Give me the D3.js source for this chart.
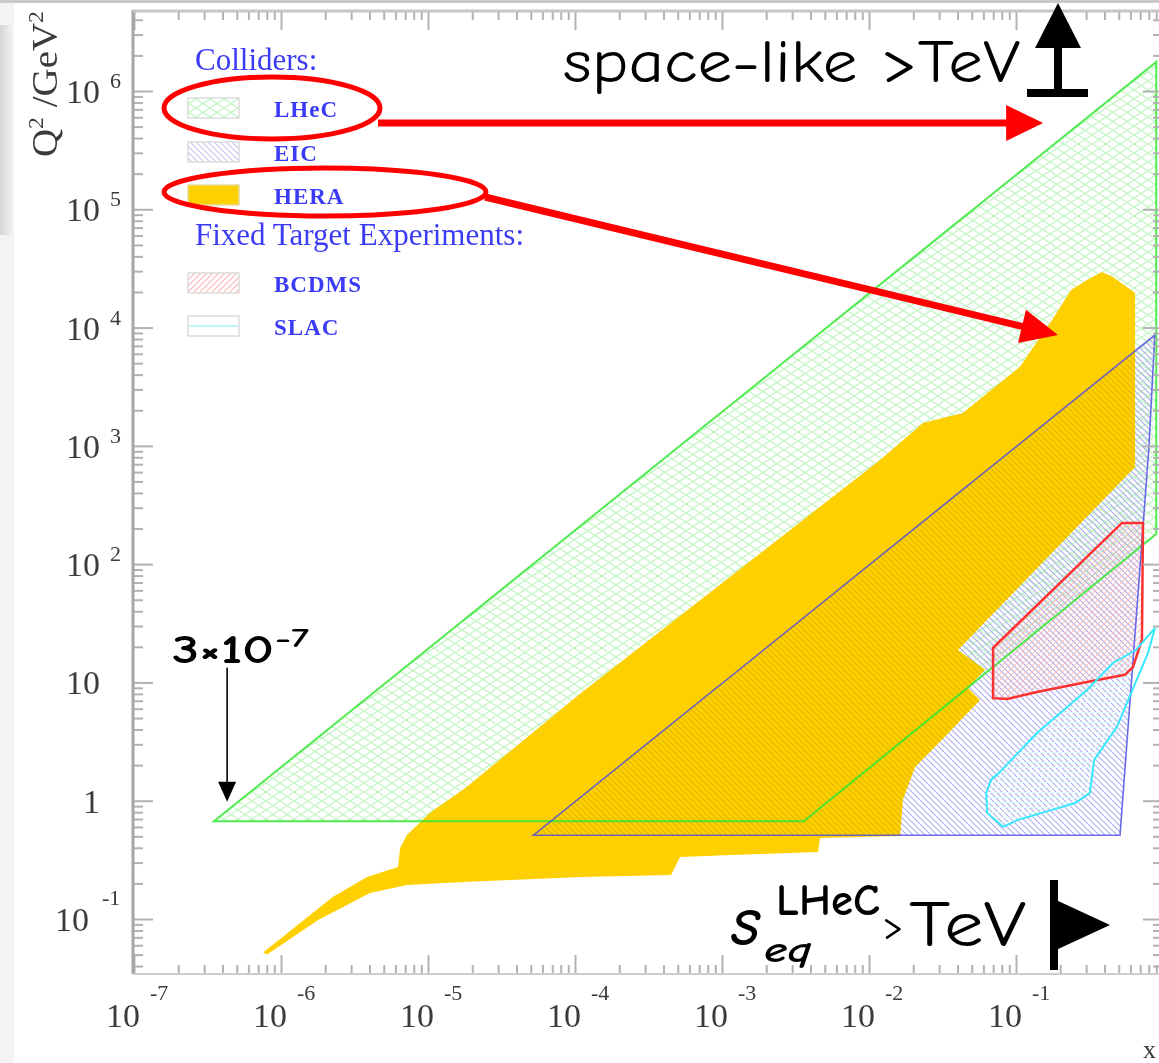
<!DOCTYPE html>
<html>
<head>
<meta charset="utf-8">
<script src="https://cdn.jsdelivr.net/npm/d3@7"></script>
<style>
  body { margin: 0; background: #fff; }
  svg { display: block; }
</style>
</head>
<body>
<svg id="chart" width="1159" height="1063"></svg>
<script>

// ---- data (x, Q^2 in GeV^2) ----
const xExponents = [-7, -6, -5, -4, -3, -2, -1];
const yExponents = [-1, 0, 1, 2, 3, 4, 5, 6];

const lhecRegion = [[3.5e-7, 0.67], [0.9, 1.76e6], [0.9, 180], [3.6e-3, 0.67]];

const eicRegion = [[5.2e-5, 0.51], [0.88, 8650], [0.80, 923], [0.51, 0.51]];

const heraRegion = [
  [7.55e-7, 0.052], [2.26e-6, 0.154], [3.85e-6, 0.227], [6.25e-6, 0.275],
  [6.46e-6, 0.399], [7.19e-6, 0.514], [1.03e-5, 0.789], [1.84e-5, 1.31],
  [1.10e-4, 8.15], [1.19e-2, 760], [2.33e-2, 1560], [4.35e-2, 1900],
  [0.106, 4640], [0.176, 11600], [0.237, 20800], [0.304, 25300],
  [0.385, 29500], [0.457, 26800], [0.646, 19600], [0.646, 664],
  [4.03e-2, 18.8], [6.15e-2, 12.8], [4.71e-2, 9.0], [5.69e-2, 7.11],
  [3.14e-2, 3.27], [2.06e-2, 1.93], [1.70e-2, 1.02], [1.63e-2, 0.504],
  [4.65e-3, 0.485], [4.50e-3, 0.369], [5.18e-4, 0.335], [4.50e-4, 0.236],
  [1.10e-4, 0.227], [1.29e-5, 0.202], [7.19e-6, 0.194], [4.03e-6, 0.166],
  [1.79e-6, 0.098], [8.04e-7, 0.050]
];

const bcdmsRegion = [
  [0.526, 223], [0.731, 223], [0.719, 22.9], [0.625, 13.5], [0.551, 11.6],
  [0.304, 10.1], [0.139, 8.31], [0.0869, 7.26], [0.0698, 7.36], [0.0698, 19.6]
];

const slacRegion = [
  [0.883, 28.9], [0.791, 17.8], [0.486, 4.21], [0.340, 2.21], [0.318, 1.16],
  [0.252, 0.957], [0.176, 0.836], [0.103, 0.689], [0.0817, 0.601], [0.0636, 0.789],
  [0.0627, 1.16], [0.0676, 1.50], [0.0766, 1.72], [0.139, 3.74], [0.304, 8.64],
  [0.457, 14.6], [0.655, 18.8]
];

const legendHeaders = ["Colliders:", "Fixed Target Experiments:"];
const legendNames = ["LHeC", "EIC", "HERA", "BCDMS", "SLAC"];

// annotation arrows, anchored in data space
const spaceArrow = [[4.57e-6, 5.36e5], [0.153, 5.36e5]];
const heraArrow = [[2.44e-5, 1.27e5], [0.193, 8650]];
const xminArrow = [[4.3e-7, 13.3], [4.3e-7, 0.98]];

// ---- scales ----
const svg = d3.select("#chart");
const x = d3.scaleLog().domain([1e-7, 1]).range([134, 1163]);
const y = d3.scaleLog().domain([1e-1, 1e6]).range([919, 91]);
const plotTop = 11, plotBottom = 974, plotLeft = 133, plotRight = 1163;

const defs = svg.append("defs");
defs.append("filter").attr("id", "soft")
  .append("feGaussianBlur").attr("stdDeviation", 0.6);

function pattern(id, w, h, d, color, width) {
  const p = defs.append("pattern").attr("id", id)
    .attr("patternUnits", "userSpaceOnUse").attr("width", w).attr("height", h);
  p.append("path").attr("d", d).attr("stroke", color)
    .attr("stroke-width", width).attr("fill", "none");
}
pattern("meshGreen", 14, 9, "M0,0L14,9M14,0L0,9", "#c4f5c4", 1.3);
pattern("hatchBlue", 6, 6, "M0,0L6,6M-1,5L1,7M5,-1L7,1", "#c6c6f4", 1.1);
pattern("hatchRed", 6, 6, "M0,6L6,0M-1,1L1,-1M5,7L7,5", "#ffb6b6", 1.2);
pattern("lineCyan", 6, 5, "M0,2.5L6,2.5", "#e2fcfc", 1);

// left grey fringe of the scanned figure
const grad = defs.append("linearGradient").attr("id", "edge");
grad.append("stop").attr("offset", "0%").attr("stop-color", "#d4d4d4");
grad.append("stop").attr("offset", "100%").attr("stop-color", "#f6f6f6");
svg.append("rect").attr("x", 0).attr("y", 0).attr("width", 14).attr("height", 1063).attr("fill", "#f4f4f4");
svg.append("rect").attr("x", 0).attr("y", 25).attr("width", 14).attr("height", 210).attr("fill", "url(#edge)");
svg.append("rect").attr("x", 0).attr("y", 0).attr("width", 1159).attr("height", 3).attr("fill", "#cacaca");

const base = svg.append("g").attr("filter", "url(#soft)");

const line = d3.line().x(d => x(d[0])).y(d => y(d[1]));
const area = pts => line(pts) + "Z";

// ---- regions ----
defs.append("clipPath").attr("id", "plotClip").append("rect")
  .attr("x", plotLeft).attr("y", plotTop).attr("width", plotRight - plotLeft).attr("height", plotBottom - plotTop);
const regions = base.append("g").attr("clip-path", "url(#plotClip)");

regions.append("path").attr("d", area(lhecRegion)).attr("fill", "url(#meshGreen)");
regions.append("path").attr("d", area(eicRegion)).attr("fill", "url(#hatchBlue)");
regions.append("path").attr("d", area(heraRegion)).attr("fill", "#ffd000");
regions.append("path").attr("d", area(eicRegion)).attr("fill", "url(#hatchBlue)")
  .style("mix-blend-mode", "multiply").attr("opacity", 0.55);
regions.append("path").attr("d", area(slacRegion)).attr("fill", "url(#lineCyan)");
regions.append("path").attr("d", area(bcdmsRegion)).attr("fill", "url(#hatchRed)").attr("opacity", 0.8);

regions.append("path").attr("d", area(lhecRegion)).attr("fill", "none")
  .attr("stroke", "#33e833").attr("stroke-width", 2).attr("stroke-opacity", 0.85);
regions.append("path").attr("d", area(eicRegion)).attr("fill", "none")
  .attr("stroke", "#4848e6").attr("stroke-width", 1.6).attr("stroke-opacity", 0.8);
regions.append("path").attr("d", area(bcdmsRegion)).attr("fill", "none")
  .attr("stroke", "#ff3030").attr("stroke-width", 2.5);
regions.append("path").attr("d", area(slacRegion)).attr("fill", "none")
  .attr("stroke", "#38e8ff").attr("stroke-width", 2);

// ---- axes ----
const majorX = d3.range(-7, 1).map(e => Math.pow(10, e));
const minorX = [];
d3.range(-7, 0).forEach(e => d3.range(2, 10).forEach(k => minorX.push(k * Math.pow(10, e))));
const majorY = d3.range(-1, 7).map(e => Math.pow(10, e));
const minorY = [];
d3.range(-2, 7).forEach(e => d3.range(2, 10).forEach(k => {
  const v = k * Math.pow(10, e);
  if (y(v) > plotTop + 2 && y(v) < plotBottom - 2) minorY.push(v);
}));

function drawAxis(axis, tx, ty) {
  const g = base.append("g").attr("transform", `translate(${tx},${ty})`).call(axis);
  g.select(".domain").remove();
  g.selectAll(".tick line").attr("stroke", "#b2b2b2").attr("stroke-width", 2);
}
drawAxis(d3.axisBottom(x).tickValues(majorX).tickSize(19).tickFormat(""), 0, plotTop);
drawAxis(d3.axisBottom(x).tickValues(minorX).tickSize(9).tickFormat(""), 0, plotTop);
drawAxis(d3.axisTop(x).tickValues(majorX).tickSize(19).tickFormat(""), 0, plotBottom);
drawAxis(d3.axisTop(x).tickValues(minorX).tickSize(9).tickFormat(""), 0, plotBottom);
drawAxis(d3.axisRight(y).tickValues(majorY).tickSize(20).tickFormat(""), plotLeft, 0);
drawAxis(d3.axisRight(y).tickValues(minorY).tickSize(10).tickFormat(""), plotLeft, 0);
drawAxis(d3.axisLeft(y).tickValues(majorY).tickSize(20).tickFormat(""), plotRight, 0);
drawAxis(d3.axisLeft(y).tickValues(minorY).tickSize(10).tickFormat(""), plotRight, 0);

base.append("line").attr("x1", plotLeft).attr("x2", plotLeft).attr("y1", plotTop - 1).attr("y2", plotBottom)
  .attr("stroke", "#a6a6a6").attr("stroke-width", 3);
base.append("line").attr("x1", plotLeft).attr("x2", plotRight).attr("y1", plotTop).attr("y2", plotTop)
  .attr("stroke", "#c6c6c6").attr("stroke-width", 3);
base.append("line").attr("x1", plotLeft).attr("x2", plotRight).attr("y1", plotBottom).attr("y2", plotBottom)
  .attr("stroke", "#cdcdcd").attr("stroke-width", 2);

// tick labels
const serif = "'Liberation Serif', 'DejaVu Serif', serif";
const labels = base.append("g").attr("font-family", serif).attr("fill", "#3a3a3a");

xExponents.forEach(e => {
  const tx = x(Math.pow(10, e));
  labels.append("text").attr("x", tx + 6).attr("y", 1027).attr("text-anchor", "end")
    .attr("font-size", 34).text("10");
  labels.append("text").attr("x", tx + 16).attr("y", 1000)
    .attr("font-size", 22).text("-" + (-e));
});

yExponents.forEach(e => {
  const ty = y(Math.pow(10, e));
  if (e === 0 || e === 1) {
    labels.append("text").attr("x", 100).attr("y", ty + 12).attr("text-anchor", "end")
      .attr("font-size", 34).text(e === 0 ? "1" : "10");
    return;
  }
  labels.append("text").attr("x", e < 0 ? 89 : 100).attr("y", ty + 12).attr("text-anchor", "end")
    .attr("font-size", 34).text("10");
  labels.append("text").attr("x", e < 0 ? 102 : 110).attr("y", e < 0 ? ty - 14 : ty - 3)
    .attr("font-size", 22).text(e < 0 ? "-" + (-e) : e);
});

const yTitle = labels.append("text").attr("transform", "translate(57,157) rotate(-90)")
  .attr("font-size", 36).attr("textLength", 146).attr("lengthAdjust", "spacingAndGlyphs");
yTitle.append("tspan").text("Q");
yTitle.append("tspan").attr("dy", -14).attr("font-size", 22).text("2");
yTitle.append("tspan").attr("dy", 14).text(" /GeV");
yTitle.append("tspan").attr("dy", -14).attr("font-size", 22).text("2");

labels.append("text").attr("x", 1143).attr("y", 1058).attr("font-size", 26).text("x");

// ---- legend ----
const legend = base.append("g").attr("font-family", serif).attr("fill", "#3b3bf5");
legend.append("text").attr("x", 195).attr("y", 70).attr("font-size", 31).text(legendHeaders[0]);
legend.append("text").attr("x", 195).attr("y", 245).attr("font-size", 31).text(legendHeaders[1]);

const swatchY = [98, 142, 185, 273, 316];
const swatchFill = ["url(#meshGreen)", "url(#hatchBlue)", "#ffd000", "url(#hatchRed)", "#ffffff"];
legendNames.forEach((name, i) => {
  legend.append("rect").attr("x", 188).attr("y", swatchY[i]).attr("width", 51).attr("height", 20)
    .attr("fill", swatchFill[i]).attr("stroke", i === 2 ? "#e8d9a0" : "#dcdcdc").attr("stroke-width", 1.5);
  if (name === "SLAC") {
    legend.append("line").attr("x1", 189).attr("x2", 238)
      .attr("y1", swatchY[i] + 10).attr("y2", swatchY[i] + 10).attr("stroke", "#bff6f6").attr("stroke-width", 2);
  }
  legend.append("text").attr("x", 274).attr("y", swatchY[i] + 19)
    .attr("font-size", 23).attr("font-weight", "bold").attr("letter-spacing", 1).text(name);
});

// ---- annotations (crisp overlay) ----
const notes = svg.append("g");
const hand = "'Comic Sans MS', 'Comic Neue', 'DejaVu Sans', sans-serif";

function arrow(pts, color, width, head, half) {
  const [x0, y0] = [x(pts[0][0]), y(pts[0][1])];
  const [x1, y1] = [x(pts[1][0]), y(pts[1][1])];
  const L = Math.hypot(x1 - x0, y1 - y0), ux = (x1 - x0) / L, uy = (y1 - y0) / L;
  const bx = x1 - ux * head, by = y1 - uy * head;
  notes.append("line").attr("x1", x0).attr("y1", y0).attr("x2", bx + ux * 2).attr("y2", by + uy * 2)
    .attr("stroke", color).attr("stroke-width", width);
  notes.append("polygon").attr("fill", color)
    .attr("points", [[x1, y1], [bx - uy * half, by + ux * half], [bx + uy * half, by - ux * half]].join(" "));
}

notes.append("ellipse").attr("cx", 272).attr("cy", 108).attr("rx", 108).attr("ry", 31)
  .attr("fill", "none").attr("stroke", "#ff0000").attr("stroke-width", 5);
notes.append("ellipse").attr("cx", 325).attr("cy", 192).attr("rx", 161).attr("ry", 24)
  .attr("fill", "none").attr("stroke", "#ff0000").attr("stroke-width", 5);
arrow(spaceArrow, "#ff0000", 7, 37, 18);
arrow(heraArrow, "#ff0000", 7, 37, 17);
arrow(xminArrow, "#000000", 1.6, 20, 9);

notes.append("text").attr("x", 563).attr("y", 82).attr("font-family", hand)
  .attr("font-size", 60).attr("textLength", 457).attr("lengthAdjust", "spacingAndGlyphs")
  .text("space-like >TeV");

// up arrow with bar
notes.append("polygon").attr("points", "1035,48 1058,3 1081,48").attr("fill", "#000");
notes.append("rect").attr("x", 1054).attr("y", 46).attr("width", 8).attr("height", 44).attr("fill", "#000");
notes.append("rect").attr("x", 1027).attr("y", 89).attr("width", 61).attr("height", 8).attr("fill", "#000");

notes.append("text").attr("x", 172).attr("y", 663).attr("font-family", hand).attr("font-weight", "bold")
  .attr("font-size", 40).attr("textLength", 102).attr("lengthAdjust", "spacingAndGlyphs").text("3×10");
notes.append("text").attr("x", 275).attr("y", 647).attr("font-family", hand).attr("font-weight", "bold")
  .attr("font-size", 26).attr("textLength", 34).attr("lengthAdjust", "spacingAndGlyphs").text("-7");

// S_eq^LHeC > TeV
notes.append("text").attr("x", 731).attr("y", 945).attr("font-family", hand).attr("font-weight", "bold")
  .attr("font-style", "italic").attr("font-size", 52).text("S");
notes.append("text").attr("x", 764).attr("y", 962).attr("font-family", hand).attr("font-weight", "bold")
  .attr("font-style", "italic").attr("font-size", 36).attr("textLength", 48).attr("lengthAdjust", "spacingAndGlyphs").text("eq");
notes.append("text").attr("x", 776).attr("y", 915).attr("font-family", hand).attr("font-weight", "bold")
  .attr("font-size", 44).attr("textLength", 104).attr("lengthAdjust", "spacingAndGlyphs").text("LHeC");
notes.append("text").attr("x", 882).attr("y", 939).attr("font-family", hand)
  .attr("font-size", 40).text(">");
notes.append("text").attr("x", 909).attr("y", 946).attr("font-family", hand)
  .attr("font-size", 64).attr("textLength", 117).attr("lengthAdjust", "spacingAndGlyphs").text("TeV");

// flag pointing right
notes.append("rect").attr("x", 1050).attr("y", 880).attr("width", 8).attr("height", 90).attr("fill", "#000");
notes.append("polygon").attr("points", "1056,900 1110,925 1056,950").attr("fill", "#000");

</script>
</body>
</html>
